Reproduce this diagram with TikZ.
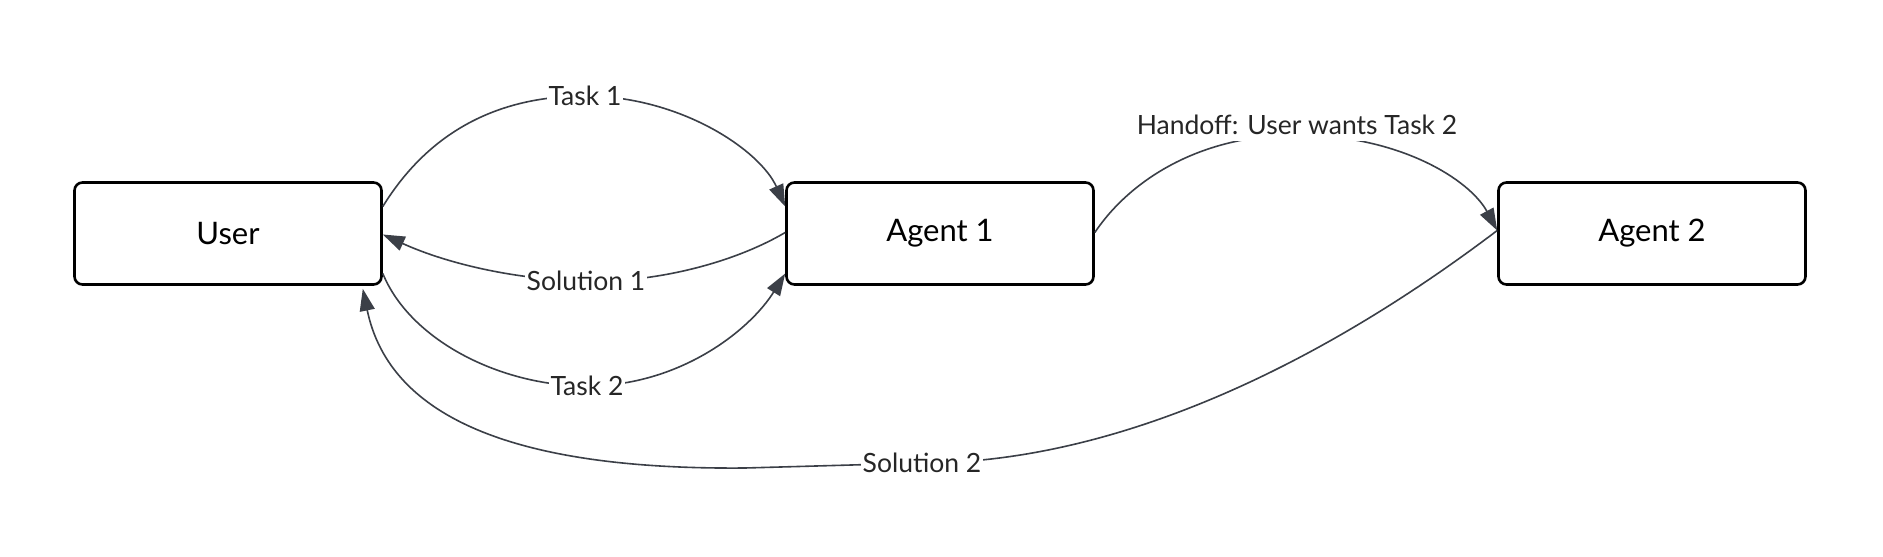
\documentclass[tikz,border=0pt]{standalone}
\usepackage{fontspec}
\setmainfont{Lato}
\usetikzlibrary{arrows.meta,calc}
\definecolor{edgecol}{HTML}{3B3F47}
\tikzset{
  box/.style={draw=black, line width=2.6pt, rounded corners=8pt, fill=white,
    minimum width=307pt, minimum height=102pt, inner sep=0pt,
    font=\fontsize{31}{36}\selectfont},
  edge/.style={draw=edgecol, line width=1.6pt,
    -{Triangle[length=22pt,width=15pt,fill=edgecol]}},
  lbl/.style={fill=white, text=black!85, inner sep=2pt,
    font=\fontsize{26.5}{30}\selectfont},
}
\begin{document}
\begin{tikzpicture}[x=1pt,y=-1pt]
\useasboundingbox[fill=white] (0,0) rectangle (1883,557);
\node[box] (user) at (228,233.5) {User};
\node[box] (agent1) at (940,233.5) {Agent 1};
\node[box] (agent2) at (1652,233.5) {Agent 2};

% Task 1
\draw[edge] ($(user.east)+(0,-27)$) .. controls (430,130) and (500,96) .. (585,96)
  node[lbl] (t1) {Task 1}
  .. controls (680,96) and (760,150) .. ($(agent1.west)+(0,-27)$);
% Solution 1
\draw[edge] ($(agent1.west)+(0,-1)$) .. controls (730,265) and (650,283) .. (586,281)
  node[lbl] (s1) {Solution 1}
  .. controls (520,280) and (450,265) .. ($(user.east)+(0,1)$);
% Task 2
\draw[edge] ($(user.east)+(0,40)$) .. controls (410,340) and (500,386) .. (587,386)
  node[lbl] (t2) {Task 2}
  .. controls (680,386) and (750,330) .. ($(agent1.west)+(0,40)$);
% Handoff
\draw[edge] ($(agent1.east)+(0,-1)$) .. controls (1130,180) and (1200,135) .. (1297,135)
  .. controls (1400,135) and (1470,180) .. ($(agent2.west)+(0,-3)$);
\node[lbl, inner sep=6pt] (h) at (1297,125) {Handoff: User wants Task 2};
% Solution 2
\draw[edge] ($(agent2.west)+(0,-3)$) .. controls (1300,380) and (1100,463) .. (922,463)
  node[lbl] (s2) {Solution 2}
  -- (745,468) .. controls (520,470) and (390,420) .. ($(user.south east)+(-20,3)$);
\end{tikzpicture}
\end{document}
